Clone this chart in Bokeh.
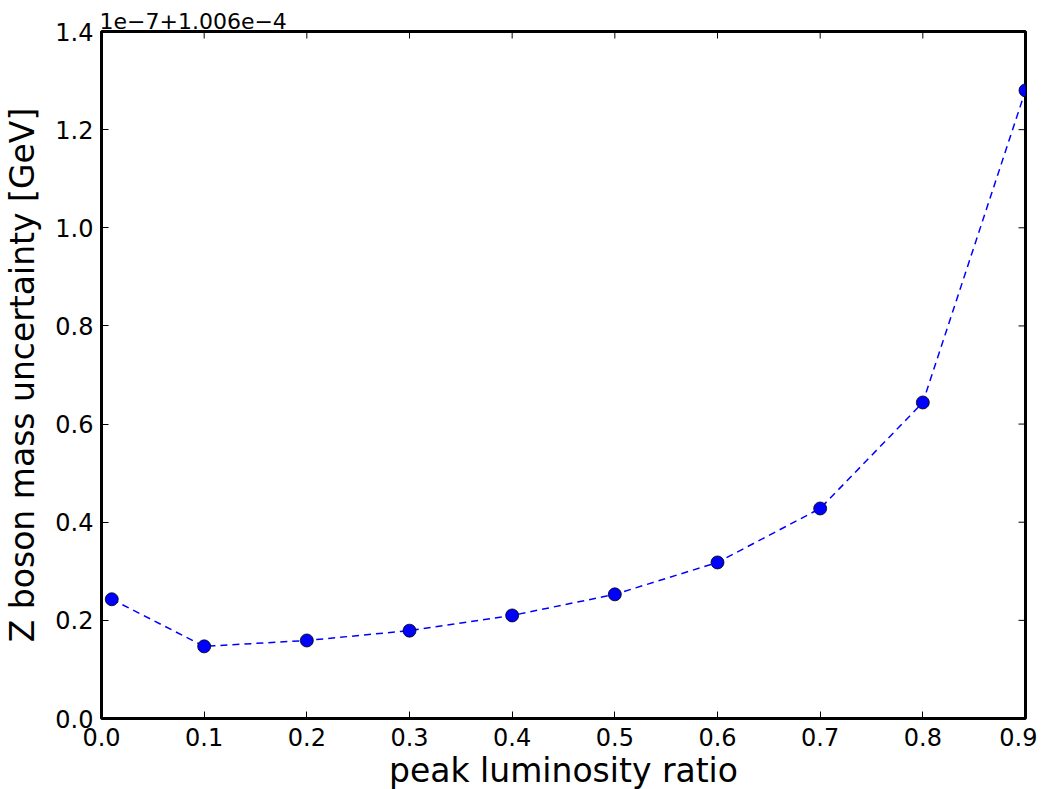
import math
from bokeh.plotting import figure
from bokeh.models import Range1d, FixedTicker, PrintfTickFormatter
from bokeh.embed import file_html
from bokeh.resources import INLINE

# Data (y in units of 1e-7, offset by 1.006e-4)
ratio = [0.01, 0.1, 0.2, 0.3, 0.4, 0.5, 0.6, 0.7, 0.8, 0.9]
uncert = [0.243, 0.147, 0.159, 0.179, 0.210, 0.253, 0.318, 0.428, 0.644, 1.280]
x_ticks = [0.0, 0.1, 0.2, 0.3, 0.4, 0.5, 0.6, 0.7, 0.8, 0.9]
y_ticks = [0.0, 0.2, 0.4, 0.6, 0.8, 1.0, 1.2, 1.4]
offset_text = "1e\u22127+1.006e\u22124"
x_label = "peak luminosity ratio"
y_label = "Z boson mass uncertainty [GeV]"

FONT = "DejaVu Sans"
X_MIN, X_MAX = 0.0, 0.9
Y_MIN, Y_MAX = 0.0, 1.4

p = figure(frame_width=924, frame_height=687, output_backend="svg", toolbar_location=None,
           x_range=Range1d(X_MIN, X_MAX), y_range=Range1d(Y_MIN, Y_MAX),
           x_axis_label=x_label, y_axis_label=y_label,
           min_border_left=93, min_border_right=12, min_border_top=31, min_border_bottom=50)
p.grid.visible = False
p.outline_line_color = "black"
p.outline_line_width = 3
p.background_fill_color = "white"
p.border_fill_color = "white"

p.title.text = offset_text
p.title.align = "left"
p.title.text_font = FONT
p.title.text_font_size = "22px"
p.title.text_font_style = "normal"
p.title.text_color = "black"
p.title.standoff = 5
p.title.offset = -2

for ax in (p.xaxis[0], p.yaxis[0]):
    ax.axis_line_color = None
    ax.major_tick_in = 7
    ax.major_tick_out = 0
    ax.minor_tick_line_color = None
    ax.major_tick_line_color = "black"
    ax.major_label_text_font = FONT
    ax.major_label_text_font_size = "24px"
    ax.major_label_text_color = "black"
    ax.axis_label_text_font = FONT
    ax.axis_label_text_font_size = "33px"
    ax.axis_label_text_font_style = "normal"
    ax.axis_label_text_color = "black"
    ax.formatter = PrintfTickFormatter(format="%.1f")

p.xaxis[0].ticker = FixedTicker(ticks=x_ticks)
p.yaxis[0].ticker = FixedTicker(ticks=y_ticks)
p.xaxis[0].major_label_standoff = 9
p.xaxis[0].axis_label_standoff = 2
p.yaxis[0].major_label_standoff = 8
p.yaxis[0].axis_label_standoff = 10

# inward ticks on the top and right edges (matplotlib style)
p.ray(x=x_ticks, y=[Y_MAX] * len(x_ticks), length=7, length_units="screen",
      angle=-math.pi / 2, line_color="black", line_width=1)
p.ray(x=[X_MAX] * len(y_ticks), y=y_ticks, length=7, length_units="screen",
      angle=math.pi, line_color="black", line_width=1)

p.line(ratio, uncert, line_color="blue", line_width=1.5, line_dash="7 5")
p.scatter(ratio, uncert, size=13, fill_color="blue", line_color="black", line_width=0.8)

open("out.html", "w").write(file_html(p, INLINE))
